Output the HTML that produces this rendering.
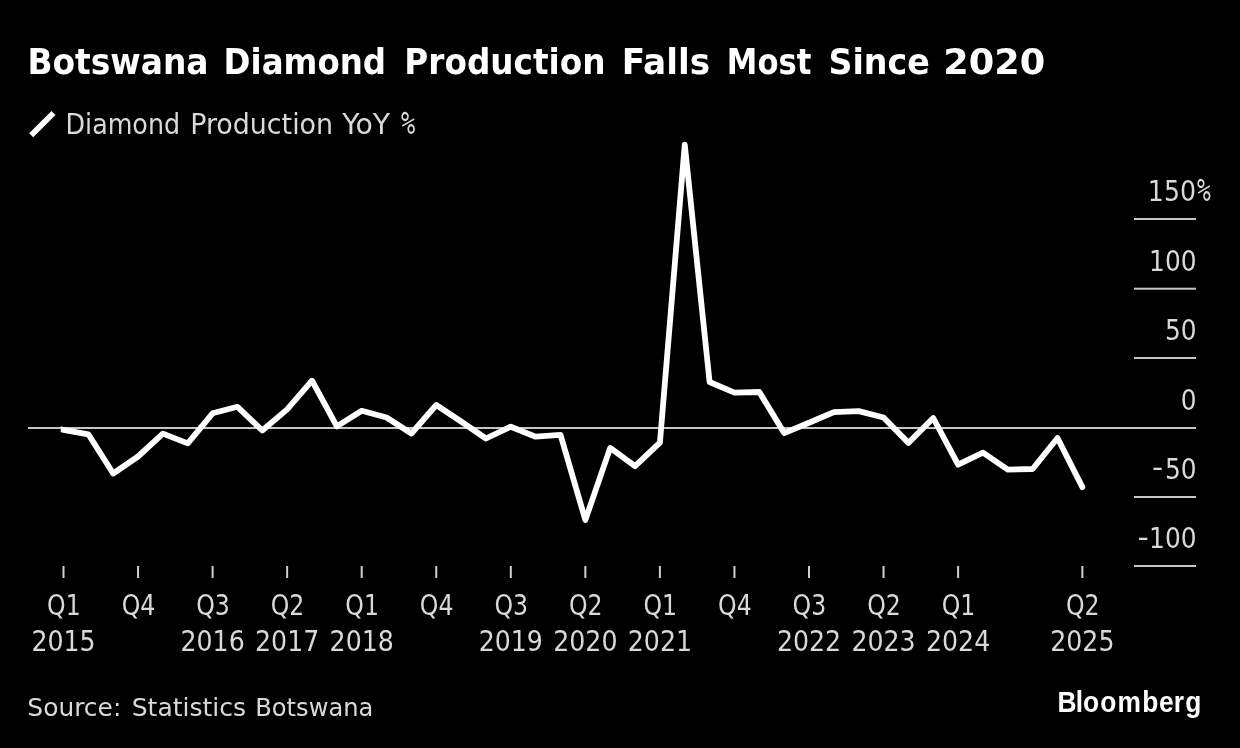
<!DOCTYPE html>
<html lang="en"><head><meta charset="utf-8"><title>Botswana Diamond Production Falls Most Since 2020</title>
<style>
html,body{margin:0;padding:0;background:#000;}
body{width:1240px;height:748px;overflow:hidden;}
svg{display:block;}
text{font-family:"DejaVu Sans Condensed","DejaVu Sans","Liberation Sans",sans-serif;font-stretch:condensed;fill:#d9d9d9;white-space:pre;}
.t{font-family:"DejaVu Sans","Liberation Sans",sans-serif;font-stretch:normal;font-weight:bold;fill:#fff;}
.b{font-family:"Liberation Sans","DejaVu Sans",sans-serif;font-stretch:normal;font-weight:bold;fill:#fff;}
.o{font-family:"DejaVu Sans Mono","Liberation Mono",monospace;font-stretch:normal;}
.m{text-anchor:middle;}
.e{text-anchor:end;}
</style></head><body>
<svg width="1240" height="748" viewBox="0 0 1240 748">
<rect width="1240" height="748" fill="#000"/>
<defs><clipPath id="c"><rect x="60.7" y="0" width="1100" height="748"/></clipPath></defs>
<text class="t" font-size="34.7"><tspan x="27.41" y="74.2" font-size="34.7" textLength="181.09" lengthAdjust="spacingAndGlyphs">Botswana</tspan> <tspan x="223.60" y="74.2" font-size="34.7" textLength="162.46" lengthAdjust="spacingAndGlyphs">Diamond</tspan> <tspan x="404.33" y="74.2" font-size="34.7" textLength="201.24" lengthAdjust="spacingAndGlyphs">Production</tspan> <tspan x="621.69" y="74.2" font-size="34.7" textLength="88.44" lengthAdjust="spacingAndGlyphs">Falls</tspan> <tspan x="726.87" y="74.2" font-size="34.7" textLength="84.57" lengthAdjust="spacingAndGlyphs">Most</tspan> <tspan x="828.46" y="74.2" font-size="34.7" textLength="101.32" lengthAdjust="spacingAndGlyphs">Since</tspan> <tspan x="943.16" y="74.2" font-size="34.7" textLength="102.01" lengthAdjust="spacingAndGlyphs">2020</tspan></text>
<line x1="31.2" y1="135.2" x2="53.5" y2="112.9" stroke="#fff" stroke-width="5.7"/>
<text font-size="27.6"><tspan x="65.56" y="133.7" font-size="27.6" textLength="114.53" lengthAdjust="spacingAndGlyphs">Diamond</tspan> <tspan x="190.22" y="133.7" font-size="27.6" textLength="142.88" lengthAdjust="spacingAndGlyphs">Production</tspan> <tspan x="342.31" y="133.7" font-size="27.6" textLength="47.69" lengthAdjust="spacingAndGlyphs">YoY</tspan> <tspan class="o" x="401.01" y="133.9" font-size="32.7" textLength="14.22" lengthAdjust="spacingAndGlyphs">%</tspan></text>
<rect x="1134" y="218" width="62" height="2" fill="#c6c6c6"/>
<text font-size="27.6"><tspan x="1147.88" y="200.5" font-size="27.6" textLength="48.18" lengthAdjust="spacingAndGlyphs">150</tspan><tspan class="o" x="1196.89" y="200.8" font-size="32.7" textLength="13.77" lengthAdjust="spacingAndGlyphs">%</tspan></text>
<rect x="1134" y="287.7" width="62" height="2" fill="#c6c6c6"/>
<text font-size="27.6"><tspan class="e" x="1196.5" y="271.3" textLength="47.4" lengthAdjust="spacingAndGlyphs">100</tspan></text>
<rect x="1134" y="357" width="62" height="2" fill="#c6c6c6"/>
<text font-size="27.6"><tspan class="e" x="1196.5" y="339.8" textLength="31.6" lengthAdjust="spacingAndGlyphs">50</tspan></text>
<rect x="1134" y="427" width="62" height="2" fill="#c6c6c6"/>
<text font-size="27.6"><tspan class="e" x="1196.5" y="409.5" textLength="15.8" lengthAdjust="spacingAndGlyphs">0</tspan></text>
<rect x="1134" y="496" width="62" height="2" fill="#c6c6c6"/>
<text font-size="27.6"><tspan x="1152.07" y="477.4" textLength="11.21" lengthAdjust="spacingAndGlyphs">-</tspan><tspan class="e" x="1196.5" y="478.5" textLength="31.6" lengthAdjust="spacingAndGlyphs">50</tspan></text>
<rect x="1134" y="565" width="62" height="2" fill="#c6c6c6"/>
<text font-size="27.6"><tspan x="1137.60" y="547" textLength="11.37" lengthAdjust="spacingAndGlyphs">-</tspan><tspan class="e" x="1196.5" y="548" textLength="47.4" lengthAdjust="spacingAndGlyphs">100</tspan></text>
<rect x="28" y="427" width="1106" height="2" fill="#c6c6c6"/>
<rect x="62.50" y="566" width="2" height="12" fill="#d0d0d0"/>
<text class="m" x="63.90" y="614.5" font-size="27.6" textLength="33.6" lengthAdjust="spacingAndGlyphs">Q1</text>
<text class="m" x="63.50" y="651.4" font-size="27.6" textLength="64.2" lengthAdjust="spacingAndGlyphs">2015</text>
<rect x="137.05" y="566" width="2" height="12" fill="#d0d0d0"/>
<text class="m" x="138.45" y="614.5" font-size="27.6" textLength="33.6" lengthAdjust="spacingAndGlyphs">Q4</text>
<rect x="211.60" y="566" width="2" height="12" fill="#d0d0d0"/>
<text class="m" x="213.00" y="614.5" font-size="27.6" textLength="33.6" lengthAdjust="spacingAndGlyphs">Q3</text>
<text class="m" x="212.60" y="651.4" font-size="27.6" textLength="64.2" lengthAdjust="spacingAndGlyphs">2016</text>
<rect x="286.15" y="566" width="2" height="12" fill="#d0d0d0"/>
<text class="m" x="287.55" y="614.5" font-size="27.6" textLength="33.6" lengthAdjust="spacingAndGlyphs">Q2</text>
<text class="m" x="287.15" y="651.4" font-size="27.6" textLength="64.2" lengthAdjust="spacingAndGlyphs">2017</text>
<rect x="360.70" y="566" width="2" height="12" fill="#d0d0d0"/>
<text class="m" x="362.10" y="614.5" font-size="27.6" textLength="33.6" lengthAdjust="spacingAndGlyphs">Q1</text>
<text class="m" x="361.70" y="651.4" font-size="27.6" textLength="64.2" lengthAdjust="spacingAndGlyphs">2018</text>
<rect x="435.25" y="566" width="2" height="12" fill="#d0d0d0"/>
<text class="m" x="436.65" y="614.5" font-size="27.6" textLength="33.6" lengthAdjust="spacingAndGlyphs">Q4</text>
<rect x="509.80" y="566" width="2" height="12" fill="#d0d0d0"/>
<text class="m" x="511.20" y="614.5" font-size="27.6" textLength="33.6" lengthAdjust="spacingAndGlyphs">Q3</text>
<text class="m" x="510.80" y="651.4" font-size="27.6" textLength="64.2" lengthAdjust="spacingAndGlyphs">2019</text>
<rect x="584.35" y="566" width="2" height="12" fill="#d0d0d0"/>
<text class="m" x="585.75" y="614.5" font-size="27.6" textLength="33.6" lengthAdjust="spacingAndGlyphs">Q2</text>
<text class="m" x="585.35" y="651.4" font-size="27.6" textLength="64.2" lengthAdjust="spacingAndGlyphs">2020</text>
<rect x="658.90" y="566" width="2" height="12" fill="#d0d0d0"/>
<text class="m" x="660.30" y="614.5" font-size="27.6" textLength="33.6" lengthAdjust="spacingAndGlyphs">Q1</text>
<text class="m" x="659.90" y="651.4" font-size="27.6" textLength="64.2" lengthAdjust="spacingAndGlyphs">2021</text>
<rect x="733.45" y="566" width="2" height="12" fill="#d0d0d0"/>
<text class="m" x="734.85" y="614.5" font-size="27.6" textLength="33.6" lengthAdjust="spacingAndGlyphs">Q4</text>
<rect x="808.00" y="566" width="2" height="12" fill="#d0d0d0"/>
<text class="m" x="809.40" y="614.5" font-size="27.6" textLength="33.6" lengthAdjust="spacingAndGlyphs">Q3</text>
<text class="m" x="809.00" y="651.4" font-size="27.6" textLength="64.2" lengthAdjust="spacingAndGlyphs">2022</text>
<rect x="882.55" y="566" width="2" height="12" fill="#d0d0d0"/>
<text class="m" x="883.95" y="614.5" font-size="27.6" textLength="33.6" lengthAdjust="spacingAndGlyphs">Q2</text>
<text class="m" x="883.55" y="651.4" font-size="27.6" textLength="64.2" lengthAdjust="spacingAndGlyphs">2023</text>
<rect x="957.10" y="566" width="2" height="12" fill="#d0d0d0"/>
<text class="m" x="958.50" y="614.5" font-size="27.6" textLength="33.6" lengthAdjust="spacingAndGlyphs">Q1</text>
<text class="m" x="958.10" y="651.4" font-size="27.6" textLength="64.2" lengthAdjust="spacingAndGlyphs">2024</text>
<rect x="1081.35" y="566" width="2" height="12" fill="#d0d0d0"/>
<text class="m" x="1082.75" y="614.5" font-size="27.6" textLength="33.6" lengthAdjust="spacingAndGlyphs">Q2</text>
<text class="m" x="1082.35" y="651.4" font-size="27.6" textLength="64.2" lengthAdjust="spacingAndGlyphs">2025</text>
<polyline points="55,428.2 63.50,429.8 88.35,434.3 113.20,473.5 138.05,456.5 162.90,433.6 187.75,443.4 212.60,413.3 237.45,406.8 262.30,430.5 287.15,409.4 312.00,380.7 336.85,426.4 361.70,410.8 386.55,417.5 411.40,433.5 436.25,405.0 461.10,421.5 485.95,438.5 510.80,426.7 535.65,436.7 560.50,434.8 585.35,520.0 610.20,447.9 635.05,466.2 659.90,442.7 684.75,144.7 709.60,382.0 734.45,392.7 759.30,392.0 784.15,433.1 809.00,422.8 833.85,412.1 858.70,411.1 883.55,417.5 908.40,442.9 933.25,418.0 958.10,464.7 982.95,452.6 1007.80,469.6 1032.65,469.0 1057.50,438.0 1082.35,487.1" fill="none" stroke="#fff" stroke-width="5.8" stroke-linejoin="round" stroke-linecap="round" clip-path="url(#c)"/>
<text font-size="25.3"><tspan x="27.36" y="716.3" font-size="25.3" textLength="93.95" lengthAdjust="spacingAndGlyphs">Source:</tspan> <tspan x="131.73" y="716.3" font-size="25.3" textLength="114.34" lengthAdjust="spacingAndGlyphs">Statistics</tspan> <tspan x="255.30" y="716.3" font-size="25.3" textLength="117.99" lengthAdjust="spacingAndGlyphs">Botswana</tspan></text>
<text class="b" transform="translate(1057.55 0) scale(0.89 1)" x="0 20.4 28.67 47.94 67.46 95.24 113.96 130.69 143.4" y="712" font-size="29.6">Bloomberg</text>
</svg>
</body></html>
